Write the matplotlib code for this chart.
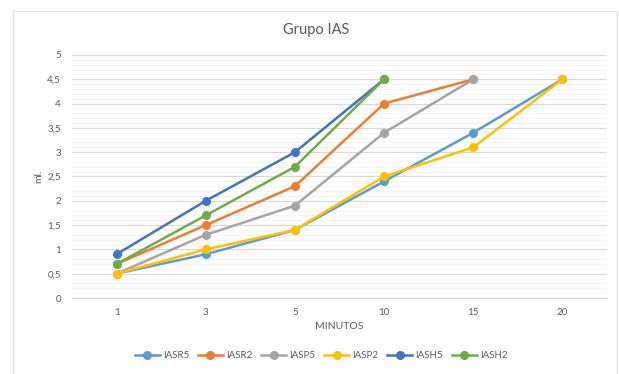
import matplotlib.pyplot as plt
from matplotlib.patches import Rectangle
from matplotlib.ticker import MultipleLocator, FuncFormatter

plt.rcParams['font.family'] = ['Lato', 'DejaVu Sans']

minutos = ['1', '3', '5', '10', '15', '20']

iasr5 = [0.5, 0.9, 1.4, 2.4, 3.4, 4.5]
iasr2 = [0.7, 1.5, 2.3, 4.0, 4.5]
iasp5 = [0.5, 1.3, 1.9, 3.4, 4.5]
iasp2 = [0.5, 1.0, 1.4, 2.5, 3.1, 4.5]
iash5 = [0.9, 2.0, 3.0, 4.5]
iash2 = [0.7, 1.7, 2.7, 4.5]

series = [
    ('IASR5', iasr5, '#5B9BD5'),
    ('IASR2', iasr2, '#ED7D31'),
    ('IASP5', iasp5, '#A5A5A5'),
    ('IASP2', iasp2, '#FFC000'),
    ('IASH5', iash5, '#4472C4'),
    ('IASH2', iash2, '#70AD47'),
]

txt = '#595959'

fig = plt.figure(figsize=(6.19, 3.74), dpi=100)
# outer chart frame
fig.patches.append(Rectangle((13 / 619, -0.01), 604 / 619, 1 - 11 / 374 + 0.01,
                             transform=fig.transFigure, fill=False,
                             edgecolor='#e3e3e3', linewidth=1))

ax = fig.add_axes([72 / 619, 76 / 374, 535 / 619, 243 / 374])

for name, vals, color in series:
    xs = list(range(len(vals)))
    ax.plot(xs, vals, '-o', color=color, label=name, linewidth=1.8,
            markersize=5.5, zorder=3)

ax.set_xlim(-0.5, len(minutos) - 0.5)
ax.set_ylim(0, 5)
ax.set_xticks(range(len(minutos)))
ax.set_xticklabels(minutos)
ax.yaxis.set_major_locator(MultipleLocator(0.5))
ax.yaxis.set_minor_locator(MultipleLocator(0.1))
ax.yaxis.set_major_formatter(FuncFormatter(lambda v, p: ('%g' % v).replace('.', ',')))

ax.grid(axis='y', which='major', color='#d9d9d9', linewidth=0.8, zorder=0)
ax.grid(axis='y', which='minor', color='#f2f2f2', linewidth=0.6, zorder=0)
for s in ['top', 'right', 'left']:
    ax.spines[s].set_visible(False)
ax.spines['bottom'].set_color('#d9d9d9')
ax.tick_params(axis='both', which='both', length=0, colors=txt, labelsize=7)
ax.tick_params(axis='y', pad=8)
ax.tick_params(axis='x', pad=7)

ax.set_xlabel('MINUTOS', color=txt, fontsize=7.5, labelpad=4)
ax.set_ylabel('ml.', color=txt, fontsize=7.5, labelpad=3)
fig.text(316 / 619, 1 - 30 / 374, 'Grupo IAS', ha='center', va='center',
         color=txt, fontsize=10.5)

fig.legend(loc='center', bbox_to_anchor=(321 / 619, 1 - 356 / 374), ncol=6,
           frameon=False, fontsize=7, handlelength=2.6, columnspacing=0.9,
           handletextpad=0.3, labelcolor=txt)

plt.savefig('out.png', dpi=100)
